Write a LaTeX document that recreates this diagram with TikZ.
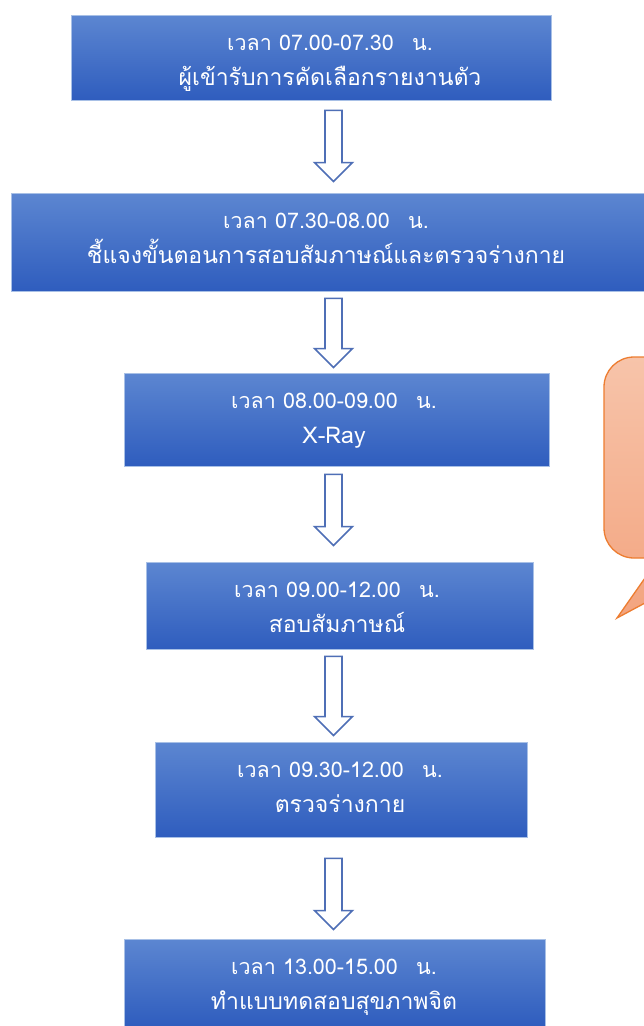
\documentclass[tikz,border=0pt]{standalone}
\usepackage{fontspec}
\newfontfamily\thaifont[Script=Thai]{Loma}
\usetikzlibrary{calc}
\definecolor{boxtop}{HTML}{5C86D1}
\definecolor{boxbot}{HTML}{2F5DBE}
\definecolor{boxline}{HTML}{A8C0E6}
\definecolor{arrline}{HTML}{4F6FB6}
\definecolor{calltop}{HTML}{F7C4AA}
\definecolor{callbot}{HTML}{F3A47F}
\definecolor{callline}{HTML}{ED7D31}
\tikzset{
  stepbox/.style={draw=boxline, line width=0.8pt, top color=boxtop, bottom color=boxbot, inner sep=0pt},
  timetext/.style={text=white, anchor=base, inner sep=0pt, font=\thaifont\fontsize{21.5}{25}\selectfont},
  tasktext/.style={text=white, anchor=base, inner sep=0pt, font=\thaifont\fontsize{23}{27}\selectfont},
  arrowline/.style={draw=arrline, line width=1.6pt, fill=white, line join=miter},
  callout/.style={draw=callline, line width=1.3pt, top color=calltop, bottom color=callbot}
}
\newcommand\flowarrow[4]{%
  \draw[arrowline] let \p1=(#1.south -| ax), \p2=(#2.north -| ax) in
    (\x1-8.5pt,\y1-#3pt) -- (\x1+8.5pt,\y1-#3pt) -- (\x1+8.5pt,\y2+#4pt+19pt)
    -- (\x1+19pt,\y2+#4pt+19pt) -- (\x1,\y2+#4pt) -- (\x1-19pt,\y2+#4pt+19pt)
    -- (\x1-8.5pt,\y2+#4pt+19pt) -- cycle;}
\newcommand\steptext[4]{%
  \node[timetext] (#1a) at ($(#1.north -| tx)+(#2,36)$) {เวลา #3};
  \node[tasktext] (#1b) at ($(#1.north -| tx)+(#2,71)$) {#4};}
\newcommand\gap{\hspace{0.85em}}
\begin{document}
\begin{tikzpicture}[x=1pt,y=-1pt]
\clip (0,0) rectangle (644,1026);
\fill[white] (0,0) rectangle (644,1026);
\coordinate (ax) at (333.5,0);
\coordinate (tx) at (330,0);

\node[stepbox, minimum width=480pt, minimum height=85pt] (b1) at (311,57.5) {};
\node[stepbox, minimum width=649pt, minimum height=98pt] (b2) at (335.5,242) {};
\node[stepbox, minimum width=425pt, minimum height=93pt] (b3) at (336.5,419.5) {};
\node[stepbox, minimum width=387pt, minimum height=87pt] (b4) at (339.5,605.5) {};
\node[stepbox, minimum width=372pt, minimum height=95pt] (b5) at (341,789.5) {};
\node[stepbox, minimum width=421pt, minimum height=87pt] (b6) at (334.5,982.5) {};

\steptext{b1}{0}{07.00-07.30\gap น.}{ผู้เข้ารับการคัดเลือกรายงานตัว}
\steptext{b2}{-4}{07.30-08.00\gap น.}{ชี้แจงขั้นตอนการสอบสัมภาษณ์และตรวจร่างกาย}
\steptext{b3}{4}{08.00-09.00\gap น.}{X-Ray}
\steptext{b4}{7}{09.00-12.00\gap น.}{สอบสัมภาษณ์}
\steptext{b5}{10}{09.30-12.00\gap น.}{ตรวจร่างกาย}
\steptext{b6}{4}{13.00-15.00\gap น.}{ทำแบบทดสอบสุขภาพจิต}

\flowarrow{b1}{b2}{10}{11}
\flowarrow{b2}{b3}{7}{5}
\flowarrow{b3}{b4}{8}{16}
\flowarrow{b4}{b5}{7}{6}
\flowarrow{b5}{b6}{21}{9}

\draw[callout] (634,357) -- (800,357) -- (800,558) -- (729,558) -- (617,618)
  -- (659,558) -- (634,558) arc[start angle=270,end angle=180,radius=30pt]
  -- (604,387) arc[start angle=180,end angle=90,radius=30pt] -- cycle;
\end{tikzpicture}
\end{document}
